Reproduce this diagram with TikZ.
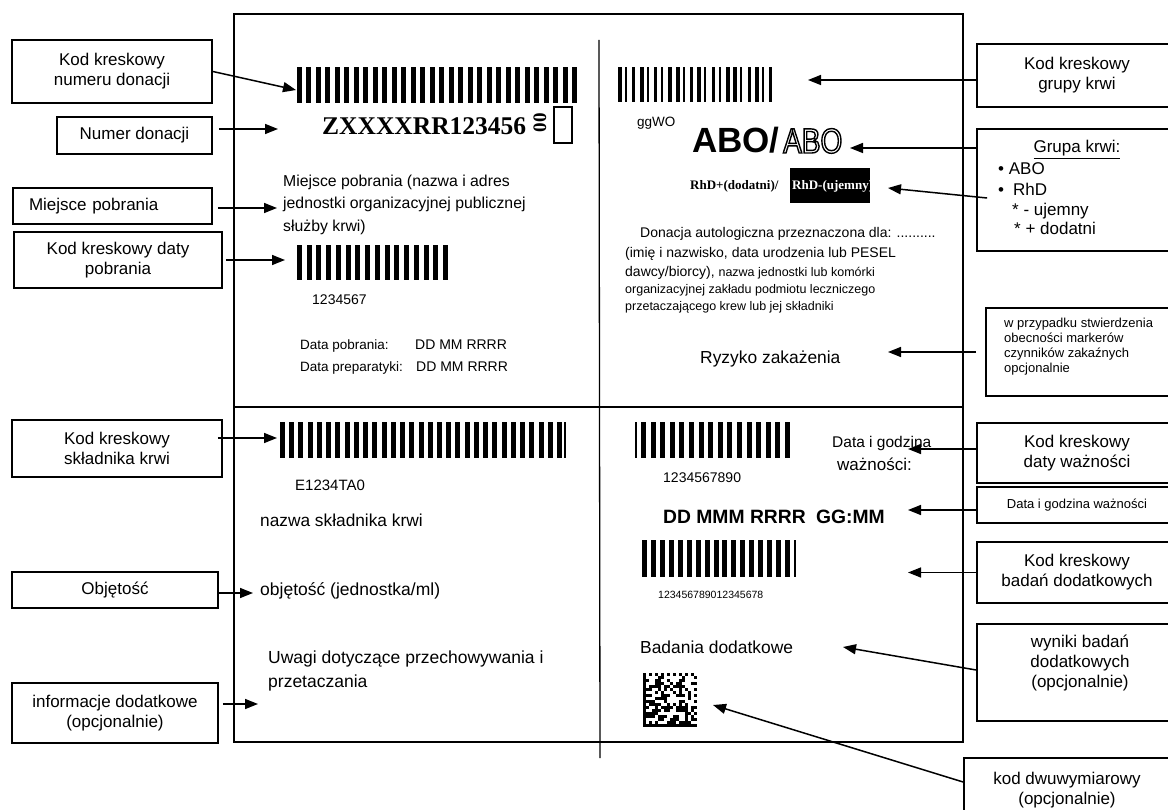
\documentclass[tikz,border=0pt]{standalone}
\usepackage{fontspec}
\setmainfont{Liberation Sans}
\newfontfamily\tnr{Liberation Serif}
\newfontfamily\nar[FakeStretch=0.8]{Liberation Sans}
\usetikzlibrary{arrows.meta,calc}
\newcommand\fs[1]{\fontsize{#1}{#1}\selectfont}
\newcommand\outl[1]{\special{pdf:literal direct 1 Tr 1.4 w}#1\special{pdf:literal direct 0 Tr}}
\newcommand\bars[6]{%
  \pgfmathsetmacro\bcstep{(#2-#1-#6)/(#5-1)}%
  \foreach \bi in {1,...,#5}{\fill ({#1+(\bi-1)*\bcstep},#3) rectangle ++(#6,{#4-#3});}%
}
\begin{document}
\begin{tikzpicture}[x=1pt,y=-1pt,
  lbl/.style={draw,line width=1.8pt,align=center,inner sep=0pt,font=\fontsize{17}{20}\selectfont},
  txt/.style={anchor=base west,inner sep=0pt},
  arr/.style={line width=1.5pt,-{Triangle[length=13pt,width=10pt]}},
  frame/.style={line width=1.8pt}]
\useasboundingbox (0,0) rectangle (1168,810);
\clip (0,0) rectangle (1168,810);
\fill[white] (0,0) rectangle (1168,810);

% ---------- label frame ----------
\draw[frame] (234,14) rectangle (963,742);
\draw[line width=1.4pt] (234,407) -- (963,407);
\draw[line width=1.3pt] (599,40) -- (600,758);

% ---------- left boxes ----------
\node[lbl,minimum width=200pt,minimum height=63pt] (kbnd) at (112,71.5) {Kod kreskowy\\numeru donacji};
\node[lbl,minimum width=155pt,minimum height=37pt] (numer) at (134.5,135.5) {Numer donacji};
\node[lbl,minimum width=199pt,minimum height=36pt,text width=167pt,inner xsep=16pt,align=left] (miejsce) at (112.5,206) {Miejsce pobrania};
\node[lbl,minimum width=208pt,minimum height=56pt] (kbdp) at (118,260) {Kod kreskowy daty\\pobrania};
\node[lbl,minimum width=210pt,minimum height=57pt] (ksk) at (117,448.5) {Kod kreskowy\\składnika krwi};
\node[lbl,minimum width=206pt,minimum height=36pt] (obj) at (115,590) {Objętość};
\node[lbl,minimum width=206pt,minimum height=60pt] (info) at (115,713) {informacje dodatkowe\\(opcjonalnie)};

% ---------- right boxes ----------
\node[lbl,minimum width=200pt,minimum height=63pt] (kbgk) at (1077,75.5) {Kod kreskowy\\grupy krwi};
\node[lbl,minimum width=200pt,minimum height=122pt] (grupa) at (1077,190) {};
\node[txt,anchor=base] (grt) at (1077,153) {\fs{17}\underline{Grupa krwi:}};
\node[txt] (gr1) at (998,175) {\fs{17}• ABO};
\node[txt] (gr2) at (998,196) {\fs{17}•\hspace{9pt}RhD};
\node[txt] (gr3) at (1012,216) {\fs{17}* - ujemny};
\node[txt] (gr4) at (1014,235) {\fs{17}* + dodatni};
\node[lbl,minimum width=200pt,minimum height=88pt] (wprz) at (1086,352) {};
\node[txt] (wp1) at (1004,328) {\fs{13}w przypadku stwierdzenia};
\node[txt] (wp2) at (1004,343) {\fs{13}obecności markerów};
\node[txt] (wp3) at (1004,358) {\fs{13}czynników zakaźnych};
\node[txt] (wp4) at (1004,373) {\fs{13}opcjonalnie};
\node[lbl,minimum width=200pt,minimum height=60pt] (kbdw) at (1077,453) {Kod kreskowy\\daty ważności};
\node[lbl,minimum width=200pt,minimum height=36pt,font=\fs{13}] (dgw) at (1077,505) {Data i godzina ważności};
\node[lbl,minimum width=200pt,minimum height=61pt] (kbbd) at (1077,572.5) {Kod kreskowy\\badań dodatkowych};
\node[lbl,minimum width=206pt,minimum height=97pt] (wyn) at (1080,672.5) {};
\node[align=center,inner sep=0pt,font=\fontsize{17}{20}\selectfont] (wynt) at (1080,663) {wyniki badań\\dodatkowych\\(opcjonalnie)};
\node[lbl,minimum width=206pt,minimum height=64pt] (kdw) at (1067,790) {kod dwuwymiarowy\\(opcjonalnie)};

% ---------- top-left quadrant ----------
\bars{297}{577}{67}{103}{30}{5}
\node[txt] (donnum) at (322,135) {\tnr\bfseries\fs{25.5}ZXXXXRR123456};
\node[inner sep=0pt,rotate=90] (zz) at (540,123) {\tnr\bfseries\fs{19}00};
\draw[line width=1.3pt] (554,107) rectangle (572,143);
\node[txt] (mp1) at (283,187) {\fs{15.8}Miejsce pobrania (nazwa i adres};
\node[txt] (mp2) at (283,209) {\fs{15.8}jednostki organizacyjnej publicznej};
\node[txt] (mp3) at (283,231.5) {\fs{15.8}służby krwi)};
\bars{297}{448}{245}{280}{16}{5}
\node[txt] (dnum) at (312,305) {\fs{14}1234567};
\node[txt] (dp1) at (300,350) {\fs{13.5}Data pobrania:};
\node[txt] (dp2) at (415,350) {\fs{14}DD MM RRRR};
\node[txt] (dp3) at (300,372) {\fs{13.5}Data preparatyki:};
\node[txt] (dp4) at (416,372) {\fs{14}DD MM RRRR};

% ---------- top-right quadrant ----------
\foreach \bi in {0,...,21}{%
  \pgfmathsetmacro\bw{{4,2,3,4,2,3,2,4}[mod(\bi,8)]}%
  \fill ({618+\bi*7.2},67) rectangle ++(\bw,35);}
\node[txt] (gg) at (637,127) {\fs{13.5}ggWO};
\node[txt] (abo1) at (692,153) {\bfseries\fs{35}ABO/};
\node[txt] (abo2) at (783,153) {\nar\fs{35}\outl{ABO}};
\node[txt] (rhp) at (690,190) {\tnr\bfseries\fs{13}RhD+(dodatni)/};
\fill (790,168) rectangle (870,203);
\node[txt,text=white] (rhm) at (792,190) {\tnr\bfseries\fs{13}RhD-(ujemny)};
\node[txt] (don1) at (640,237.5) {\fs{14}Donacja autologiczna przeznaczona dla: ..........};
\node[txt] (don2) at (625,258) {\fs{14}(imię i nazwisko, data urodzenia lub PESEL};
\node[txt] (don3) at (625,277) {\fs{14}dawcy/biorcy), {\fs{12.5}nazwa jednostki lub komórki}};
\node[txt] (don4) at (625,294) {\fs{12.5}organizacyjnej zakładu podmiotu leczniczego};
\node[txt] (don5) at (625,311) {\fs{12.5}przetaczającego krew lub jej składniki};
\node[txt] (ryz) at (700,363) {\fs{17.4}Ryzyko zakażenia};

% ---------- bottom-left quadrant ----------
\bars{280}{562}{422}{458}{31}{5}
\fill (564,422) rectangle (565.5,458);
\node[txt] (ecode) at (295,490) {\fs{15}E1234TA0};
\node[txt] (nsk) at (260,526) {\fs{17.3}nazwa składnika krwi};
\node[txt] (objt) at (260,595) {\fs{17.5}objętość (jednostka/ml)};
\node[txt] (uw1) at (268,663) {\fs{17.5}Uwagi dotyczące przechowywania i};
\node[txt] (uw2) at (268,687) {\fs{17.5}przetaczania};

% ---------- bottom-right quadrant ----------
\fill (635,422) rectangle (636.5,458);
\bars{641}{790}{422}{458}{16}{5}
\node[txt] (enum) at (663,482) {\fs{14}1234567890};
\node[txt] (dg1) at (832,447) {\fs{15.5}Data i godzina};
\node[txt] (dg2) at (837,470) {\fs{17}ważności:};
\node[txt] (dmr) at (663,523) {\bfseries\fs{19.3}DD MMM RRRR\hspace{5pt} GG:MM};
\bars{642}{790}{540}{577}{17}{5}
\fill (794,540) rectangle (795.5,577);
\node[txt] (bnum) at (658,598) {\fs{10.5}123456789012345678};
\node[txt] (bad) at (640,653) {\fs{17.4}Badania dodatkowe};
\pgfmathsetseed{42}
\foreach \r in {0,...,17}{\foreach \c in {0,...,17}{%
  \pgfmathtruncatemacro\on{(\c==0) || (\r==17) || (\r==0 && mod(\c,2)==0) || (\c==17 && mod(\r,2)==1) || (\c>0 && \c<17 && \r>0 && \r<17 && rnd>0.5)}%
  \ifnum\on=1 \fill ({643+3*\c},{673+3*\r}) rectangle ++(3,3);\fi}}

% ---------- arrows ----------
\coordinate (t1) at (296,90);
\coordinate (t2) at (278,129);
\coordinate (t3) at (277,208);
\coordinate (t4) at (285,260);
\coordinate (t5) at (277,438);
\coordinate (t6) at (253,593);
\coordinate (t7) at (258,704);
\coordinate (t8) at (808,80);
\coordinate (t9) at (850,148);
\coordinate (t10) at (888,188);
\coordinate (t11) at (888,352);
\coordinate (t12) at (908,449);
\coordinate (t13) at (908,510);
\coordinate (t14) at (908,572.5);
\coordinate (t15) at (843,647);
\coordinate (t16) at (713,705);
\draw[arr] (kbnd.east) -- (t1);
\draw[arr,shorten <=6pt] (numer.east |- t2) -- (t2);
\draw[arr,shorten <=5pt] (miejsce.east |- t3) -- (t3);
\draw[arr,shorten <=3pt] (kbdp.east |- t4) -- (t4);
\draw[arr,shorten <=-5pt] (ksk.east |- t5) -- (t5);
\draw[arr] (obj.east |- t6) -- (t6);
\draw[arr,shorten <=4pt] (info.east |- t7) -- (t7);
\draw[arr] (kbgk.west |- t8) -- (t8);
\draw[arr] (grupa.west |- t9) -- (t9);
\draw[arr] ($(grupa.west)+(11,8)$) -- (t10);
\draw[arr,shorten <=9pt] (wprz.west) -- (t11);
\draw[arr] (kbdw.west |- t12) -- (t12);
\draw[arr] (dgw.west |- t13) -- (t13);
\draw[arr] (kbbd.west) -- (t14);
\draw[arr] ($(wyn.west)+(0,-2.5)$) -- (t15);
\draw[arr] ($(kdw.west)+(0,-8)$) -- (t16);
\end{tikzpicture}
\end{document}
